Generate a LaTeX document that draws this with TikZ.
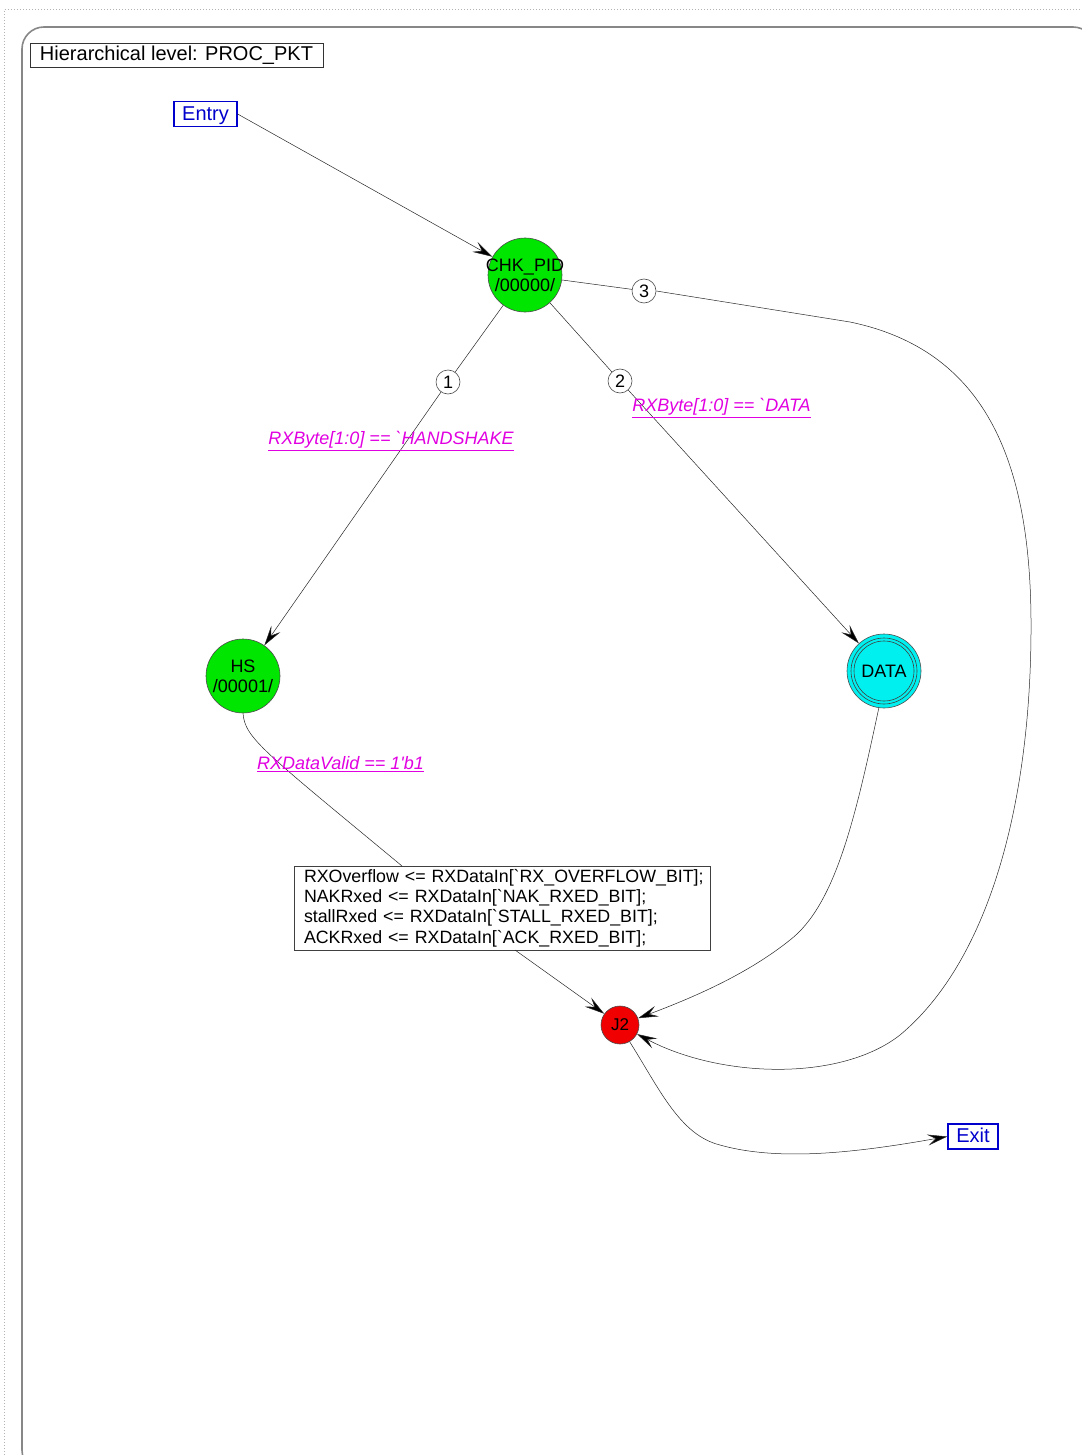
\documentclass[tikz,border=0pt]{standalone}
\usepackage{fontspec}
\setmainfont{Liberation Sans}[Ligatures=TeXOff]
\usetikzlibrary{arrows.meta}
\definecolor{stgreen}{RGB}{0,230,0}
\definecolor{stcyan}{RGB}{0,240,240}
\definecolor{stred}{RGB}{240,0,0}
\definecolor{stblue}{RGB}{0,0,205}
\definecolor{stmag}{RGB}{225,0,225}
\definecolor{framegray}{RGB}{135,135,135}
\newcommand{\bq}{\symbol{96}}
\newcommand{\sq}{\symbol{39}}
\newcommand{\cl}[1]{\makebox[0pt]{#1}}
\begin{document}
\begin{tikzpicture}[x=1pt,y=-1pt,
  every node/.style={font=\fontsize{18}{20}\selectfont},
  state/.style={circle,draw=black!70,line width=0.6pt,minimum size=74pt,inner sep=0pt,align=center},
  port/.style={draw=stblue,line width=1.2pt,text=stblue,font=\fontsize{20}{22}\selectfont,inner sep=0pt,minimum height=25pt,text height=14.5pt,text depth=2pt},
  num/.style={circle,draw=black!70,fill=white,minimum size=24pt,inner sep=0pt,line width=0.6pt},
  cond/.style={text=stmag,font=\fontsize{18}{20}\selectfont\itshape,inner sep=0pt},
  conn/.style={line width=0.5pt,draw=black!85},
  arr/.style={conn,-{Stealth[length=20pt,width=11pt,inset=8pt,fill=black]}}
]
\useasboundingbox (0,0) rectangle (1081,1455);
% outer dotted border
\draw[black!30,dotted,line width=1pt] (4,1455) -- (4,10) -- (1081,10);
% rounded frame
\draw[framegray,line width=1.6pt,rounded corners=22pt] (22,27) rectangle (1095,1472);
% title
\node[draw=black!80,line width=0.8pt,minimum width=293pt,minimum height=24pt,inner sep=0pt,text height=14.5pt,text depth=3pt,font=\fontsize{20}{22}\selectfont] (title) at (176.5,55) {Hierarchical level: PROC\_PKT};
% ports
\node[port,minimum width=63pt] (entry) at (205.5,114) {Entry};
\node[port,minimum width=50pt] (exit) at (973,1136.5) {Exit};
% states
\node[state,fill=stgreen] (chk) at (525,275) {\cl{CHK\_PID}\\\cl{/00000/}};
\node[state,fill=stgreen] (hs) at (243,676) {\cl{HS}\\\cl{/00001/}};
\node[state,fill=stcyan] (data) at (884,671) {\cl{DATA}};
\draw[black!75,line width=0.6pt] (data.center) circle (33pt);
\draw[black!75,line width=0.6pt] (data.center) circle (30pt);
\node[circle,draw=black!70,fill=stred,minimum size=38pt,inner sep=0pt,line width=0.6pt,font=\fontsize{17}{20}\selectfont] (j2) at (620,1025) {J2};
% numbered branches
\node[num] (n1) at (448,382) {1};
\node[num] (n2) at (620,381) {2};
\node[num] (n3) at (644,291) {3};
% action box
\node[draw=black!75,line width=0.8pt,minimum width=416pt,minimum height=84pt,text width=396pt,align=left,inner xsep=10pt,inner ysep=0pt,font=\fontsize{17.8}{20.3}\selectfont] (act) at (502,908)
{\mbox{RXOverflow <= RXDataIn[\bq RX\_OVERFLOW\_BIT];}\\
\mbox{NAKRxed <= RXDataIn[\bq NAK\_RXED\_BIT];}\\
\mbox{stallRxed <= RXDataIn[\bq STALL\_RXED\_BIT];}\\
\mbox{ACKRxed <= RXDataIn[\bq ACK\_RXED\_BIT];}};
% connectors
\draw[arr] (entry.east) -- (chk);
\draw[conn] (chk) -- (n1);
\draw[arr] (n1) -- (hs);
\draw[conn] (chk) -- (n2);
\draw[arr] (n2) -- (data);
\draw[conn] (chk) -- (n3);
\coordinate (c3a) at (850,322);
\coordinate (c3b) at (1031,620);
\coordinate (c3c) at (900,1035);
\draw[arr] (n3.east) -- (c3a) .. controls (985,350) and (1030,460) .. (c3b)
  .. controls (1032,800) and (990,960) .. (c3c)
  .. controls (840,1082) and (720,1078) .. (j2);
\coordinate (actin) at (402,866);
\draw[conn] (hs.south) .. controls (245,738) and (262,750) .. (actin);
\coordinate (actout) at (515,950);
\draw[arr] (actout) -- (j2);
\coordinate (dbend) at (790,940);
\draw[arr] (data.262) .. controls (855,820) and (835,905) .. (dbend)
  .. controls (750,972) and (700,995) .. (j2);
\coordinate (xbend) at (720,1145);
\draw[arr] (j2.300) .. controls (660,1090) and (680,1135) .. (xbend)
  .. controls (780,1162) and (860,1152) .. (exit.west);
% conditions
\node[cond] (l1) at (391,441) {\underline{RXByte[1:0] == \bq HANDSHAKE}};
\node[cond] (l2) at (721.5,408) {\underline{RXByte[1:0] == \bq DATA}};
\node[cond] (l3) at (340.5,764) {\underline{RXDataValid == 1\sq b1}};
\end{tikzpicture}
\end{document}
